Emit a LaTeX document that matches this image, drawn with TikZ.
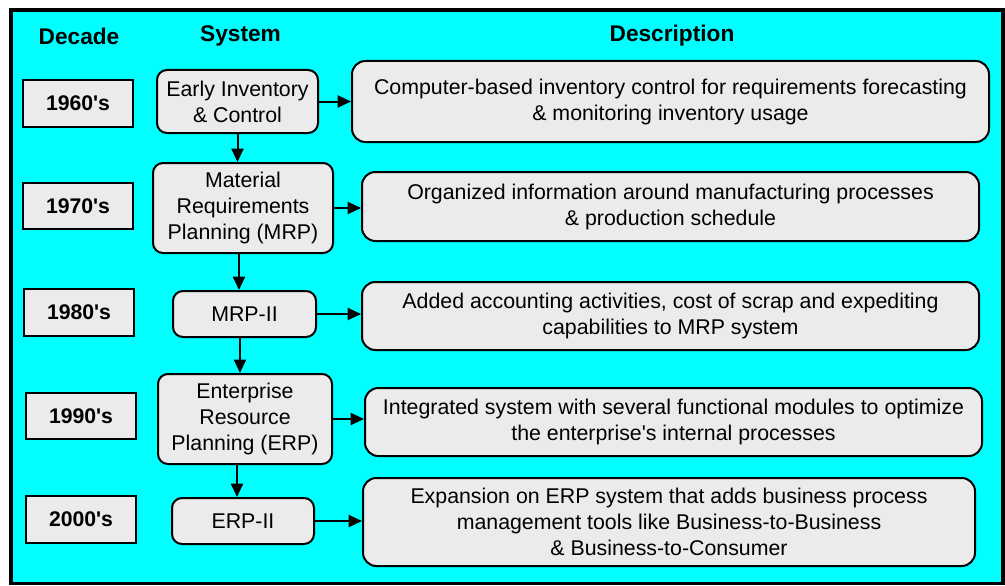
\documentclass[tikz,border=0pt]{standalone}
\usepackage{fontspec}
\setmainfont{Liberation Sans}
\usetikzlibrary{arrows.meta}
\definecolor{bgcyan}{HTML}{00FFFF}
\definecolor{boxgray}{HTML}{EBEBEB}
\begin{document}
\begin{tikzpicture}[x=0.75pt,y=-0.75pt,
  sz/.style 2 args={minimum width=#1*0.75pt, minimum height=#2*0.75pt},
  base/.style={draw=black, line width=1.5pt, fill=boxgray, inner sep=0pt, align=center, font=\fontsize{16}{19.5}\selectfont},
  decbox/.style={base, font=\fontsize{15.9}{19.5}\selectfont\bfseries},
  sysbox/.style={base, rounded corners=7.5pt},
  descbox/.style={base, rounded corners=10pt},
  head/.style={font=\fontsize{17}{20}\selectfont\bfseries, inner sep=0pt},
  arr/.style={line width=1.5pt, -{Triangle[length=10pt,width=9pt]}}]
\useasboundingbox (0,0) rectangle (1005,585);
\fill[black] (9,8) rectangle (1005,585);
\fill[bgcyan] (13,12) rectangle (1001,582);
% headers
\node[head] (hdec) at (79,36) {Decade};
\node[head] (hsys) at (240.5,36) {System};
\node[head] (hdesc) at (672,36) {Description};
% decades
\node[decbox, sz={110}{47}] (d1) at (78,103.5) {1960\textquotesingle s};
\node[decbox, sz={110}{46}] (d2) at (78,206) {1970\textquotesingle s};
\node[decbox, sz={110}{47}] (d3) at (79,312.5) {1980\textquotesingle s};
\node[decbox, sz={110}{46}] (d4) at (81,416) {1990\textquotesingle s};
\node[decbox, sz={110}{47}] (d5) at (81,519.5) {2000\textquotesingle s};
% systems
\node[sysbox, sz={161}{63}] (s1) at (237.5,101.5) {Early Inventory\\\& Control};
\node[sysbox, sz={180}{90}] (s2) at (243,208) {Material\\Requirements\\Planning (MRP)};
\node[sysbox, sz={143}{46}] (s3) at (244.5,314) {MRP-II};
\node[sysbox, sz={174}{90}] (s4) at (245,419) {Enterprise\\Resource\\Planning (ERP)};
\node[sysbox, sz={142}{46}] (s5) at (243,521) {ERP-II};
% descriptions
\node[descbox, sz={637}{81}] (e1) at (670.5,101.5) {Computer-based inventory control for requirements forecasting\\\& monitoring inventory usage};
\node[descbox, sz={617}{69}] (e2) at (670.5,206.5) {Organized information around manufacturing processes\\\& production schedule};
\node[descbox, sz={617}{68}] (e3) at (670.5,316) {Added accounting activities, cost of scrap and expediting\\capabilities to MRP system};
\node[descbox, sz={617}{68}] (e4) at (673.5,422) {Integrated system with several functional modules to optimize\\the enterprise\textquotesingle s internal processes};
\node[descbox, sz={612}{88}] (e5) at (669,522) {Expansion on ERP system that adds business process\\management tools like Business-to-Business\\\& Business-to-Consumer};
% vertical arrows
\draw[arr] (s1.south) -- (s1.south |- s2.north);
\draw[arr] ([xshift=-3pt]s2.south) -- ([xshift=-3pt]s2.south |- s3.north);
\draw[arr] ([xshift=-3.4pt]s3.south) -- ([xshift=-3.4pt]s3.south |- s4.north);
\draw[arr] ([xshift=-6pt]s4.south) -- ([xshift=-6pt]s4.south |- s5.north);
% horizontal arrows
\draw[arr] (s1.east) -- (s1.east -| e1.west);
\draw[arr] (s2.east) -- (s2.east -| e2.west);
\draw[arr] (s3.east) -- (s3.east -| e3.west);
\draw[arr] (s4.east) -- (s4.east -| e4.west);
\draw[arr] (s5.east) -- (s5.east -| e5.west);
\end{tikzpicture}
\end{document}
